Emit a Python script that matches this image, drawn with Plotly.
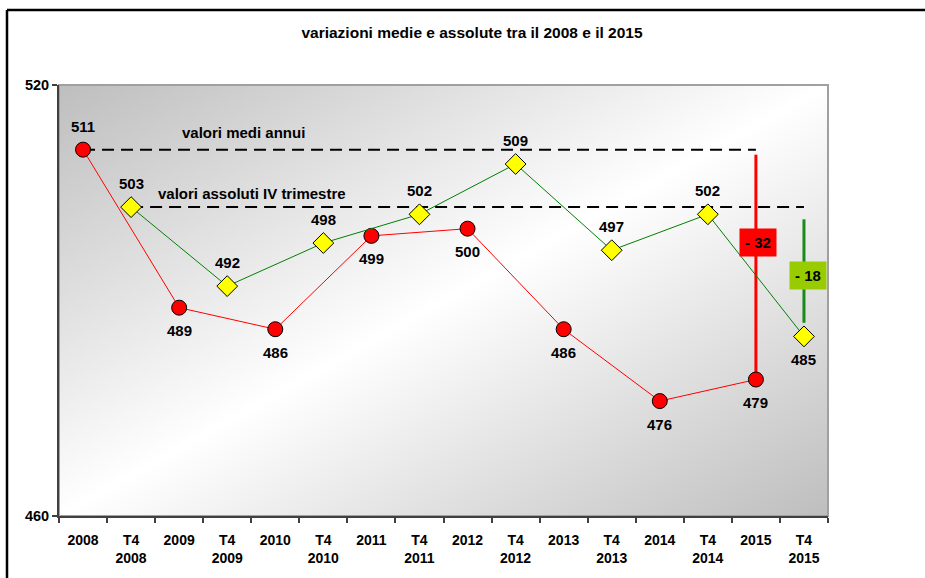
import base64
import plotly.graph_objects as go

# ---- data ----
categories = ["2008", "T4<br>2008", "2009", "T4<br>2009", "2010", "T4<br>2010",
              "2011", "T4<br>2011", "2012", "T4<br>2012", "2013", "T4<br>2013",
              "2014", "T4<br>2014", "2015", "T4<br>2015"]
annual_cats = ["2008", "2009", "2010", "2011", "2012", "2013", "2014", "2015"]
annual_vals = [511, 489, 486, 499, 500, 486, 476, 479]
q4_cats = ["T4<br>2008", "T4<br>2009", "T4<br>2010", "T4<br>2011",
           "T4<br>2012", "T4<br>2013", "T4<br>2014", "T4<br>2015"]
q4_vals = [503, 492, 498, 502, 509, 497, 502, 485]
y_ticks = [460, 520]
title_text = "variazioni medie e assolute tra il 2008 e il 2015"
label_annual = "valori medi annui"
label_q4 = "valori assoluti IV trimestre"

FONT = "Liberation Sans, Arial, sans-serif"

# plot area geometry (pixels)
W, H = 925, 578
L, R, T, B = 59, 828, 85, 516
pw, ph = R - L, B - T

def px_x(p):
    return (p - L) / pw

def px_y(p):
    return (B - p) / ph

def idx(c):
    return categories.index(c)

fig = go.Figure()

# vertical difference bars
d_annual = annual_vals[-1] - annual_vals[0]
d_q4 = q4_vals[-1] - q4_vals[0]
fig.add_trace(go.Scatter(x=[annual_cats[-1], annual_cats[-1]], y=[annual_vals[0] - 0.7, annual_vals[-1] + 1.0],
                         mode="lines", line=dict(color="#ff0000", width=3), hoverinfo="skip", showlegend=False))
fig.add_trace(go.Scatter(x=[q4_cats[-1], q4_cats[-1]], y=[q4_vals[0] - 1.7, q4_vals[-1] + 1.9],
                         mode="lines", line=dict(color="#1a8a1a", width=3), hoverinfo="skip", showlegend=False))

# dashed reference lines
fig.add_trace(go.Scatter(x=[annual_cats[0], annual_cats[-1]], y=[annual_vals[0]] * 2,
                         mode="lines", line=dict(color="#000000", width=2, dash="12px,7px"),
                         hoverinfo="skip", showlegend=False))
fig.add_trace(go.Scatter(x=[q4_cats[0], q4_cats[-1]], y=[q4_vals[0]] * 2,
                         mode="lines", line=dict(color="#000000", width=2, dash="12px,7px"),
                         hoverinfo="skip", showlegend=False))

# series
fig.add_trace(go.Scatter(x=annual_cats, y=annual_vals, mode="lines+markers",
                         line=dict(color="#ff0000", width=1),
                         marker=dict(symbol="circle", size=15, color="#ff0000",
                                     line=dict(color="#000000", width=1)),
                         showlegend=False))
fig.add_trace(go.Scatter(x=q4_cats, y=q4_vals, mode="lines+markers",
                         line=dict(color="#008000", width=1),
                         marker=dict(symbol="diamond", size=16, color="#ffff00",
                                     line=dict(color="#000000", width=1)),
                         showlegend=False))

annotations = []
lab_font = dict(family=FONT, size=15, color="#000000", weight="bold")
for i, (c, v) in enumerate(zip(annual_cats, annual_vals)):
    annotations.append(dict(x=idx(c), y=v, text=str(v), showarrow=False, font=lab_font,
                            yshift=23 if i == 0 else -23))
for i, (c, v) in enumerate(zip(q4_cats, q4_vals)):
    annotations.append(dict(x=idx(c), y=v, text=str(v), showarrow=False, font=lab_font,
                            yshift=-23 if i == len(q4_vals) - 1 else 24))

# series name labels
annotations.append(dict(x=px_x(180), y=annual_vals[0], xref="paper", yref="y", text=label_annual,
                        xanchor="left", yshift=17, showarrow=False,
                        font=dict(family=FONT, size=15, color="#000000", weight="bold")))
annotations.append(dict(x=px_x(156), y=q4_vals[0], xref="paper", yref="y", text=label_q4,
                        xanchor="left", yshift=14, showarrow=False,
                        font=dict(family=FONT, size=15, color="#000000", weight="bold")))

# difference boxes
annotations.append(dict(x=idx(annual_cats[-1]), y=(annual_vals[0] + annual_vals[-1]) / 2, yshift=22, xshift=2,
                        text="- %d" % abs(d_annual), showarrow=False, bgcolor="#ff0000",
                        borderpad=5, font=dict(family=FONT, size=15, color="#000000", weight="bold")))
annotations.append(dict(x=idx(q4_cats[-1]), y=(q4_vals[0] + q4_vals[-1]) / 2, yshift=-4, xshift=4,
                        text="- %d" % abs(d_q4), showarrow=False, bgcolor="#99cc00",
                        borderpad=5, font=dict(family=FONT, size=15, color="#000000", weight="bold")))

# gradient background for plot area
svg = ("<svg xmlns='http://www.w3.org/2000/svg' width='%d' height='%d'>"
       "<defs><linearGradient id='g' x1='0' y1='0' x2='1' y2='1'>"
       "<stop offset='0' stop-color='#bebebe'/><stop offset='0.5' stop-color='#ffffff'/>"
       "<stop offset='1' stop-color='#bebebe'/></linearGradient></defs>"
       "<rect width='%d' height='%d' fill='url(#g)'/></svg>") % (pw, ph, pw, ph)
src = "data:image/svg+xml;base64," + base64.b64encode(svg.encode()).decode()

shapes = [
    # plot border (top/right gray)
    dict(type="rect", xref="paper", yref="paper", x0=0, x1=1, y0=0, y1=1,
         line=dict(color="#a0a0a0", width=2), layer="below"),
    # outer chart frame
    dict(type="line", xref="paper", yref="paper", x0=px_x(7), x1=px_x(930), y0=px_y(10), y1=px_y(10),
         line=dict(color="#000000", width=2.5)),
    dict(type="line", xref="paper", yref="paper", x0=px_x(7), x1=px_x(7), y0=px_y(10), y1=px_y(590),
         line=dict(color="#000000", width=2.5)),
]

fig.update_layout(
    width=W, height=H,
    margin=dict(l=L, r=W - R, t=T, b=H - B, autoexpand=False),
    paper_bgcolor="#ffffff",
    plot_bgcolor="rgba(0,0,0,0)",
    title=dict(text=title_text, xref="container", yref="container", x=472 / W, y=1 - 33 / H,
               xanchor="center", yanchor="middle",
               font=dict(family=FONT, size=15.5, color="#000000", weight="bold")),
    images=[dict(source=src, xref="paper", yref="paper", x=0, y=1, sizex=1, sizey=1,
                 sizing="stretch", xanchor="left", yanchor="top", layer="below")],
    shapes=shapes,
    annotations=annotations,
    showlegend=False,
)
fig.update_xaxes(type="category", categoryorder="array", categoryarray=categories,
                 range=[-0.5, len(categories) - 0.5], tickson="boundaries",
                 ticks="outside", ticklen=5, tickcolor="#404040", tickwidth=1.5,
                 showline=True, linecolor="#404040", linewidth=2, showgrid=False, zeroline=False,
                 automargin=False, ticklabelstandoff=10,
                 tickfont=dict(family=FONT, size=14, color="#000000", weight="bold"))
fig.update_yaxes(range=[y_ticks[0], y_ticks[-1]], tickvals=y_ticks, ticks="outside", ticklen=5,
                 tickcolor="#404040", tickwidth=1.5, showline=True, linecolor="#404040", linewidth=2,
                 showgrid=False, zeroline=False, automargin=False,
                 tickfont=dict(family=FONT, size=14.5, color="#000000", weight="bold"))

fig.write_html("out.html", config={"displayModeBar": False},
               post_script="document.body.style.margin='0';document.body.style.overflow='hidden';")
